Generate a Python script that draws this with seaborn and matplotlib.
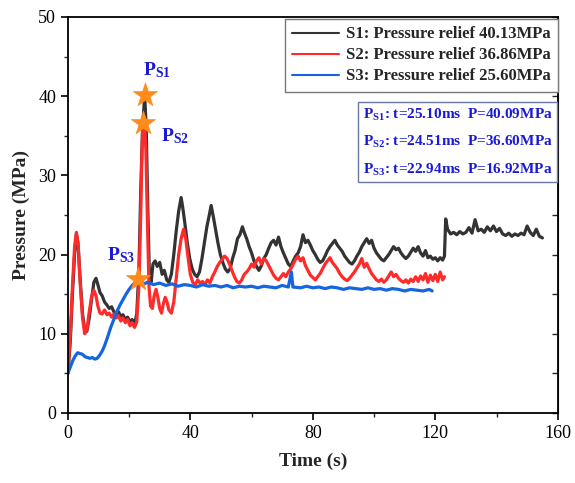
import numpy as np
import pandas as pd
import matplotlib
matplotlib.use("Agg")
import matplotlib.pyplot as plt
from matplotlib.ticker import MultipleLocator
import seaborn as sns

# ---------------- data ----------------
s1_t = [0, 0.8, 1.5, 2.2, 2.8, 3.3, 4, 4.8, 5.5, 6.2, 7, 7.8, 8.5, 9.2, 9.8, 10.5, 11.2, 12, 12.8, 13.5,
        14.3, 15, 15.8, 16.5, 17.3, 18, 18.8, 19.5, 20.3, 21, 21.8, 22.5, 23.2, 23.8, 24.4, 25.1, 25.6, 26.1,
        26.6, 27.2, 27.8, 28.5, 29.2, 30, 30.8, 31.5, 32.3, 33, 33.8, 34.6, 35.4, 36.2, 37, 37.5, 38.2, 39,
        39.8, 40.6, 41.4, 42.2, 43, 43.8, 44.6, 45.4, 46.2, 46.8, 47.5, 48.3, 49, 49.8, 50.6, 51.4, 52.2, 53,
        53.8, 54.6, 55.4, 56.2, 57, 57.6, 58.4, 59.2, 60, 60.8, 61.6, 62.4, 63.2, 64, 64.8, 65.6, 66.4, 67.2,
        68, 68.8, 69.6, 70.4, 71.2, 72, 72.8, 73.6, 74.4, 75.2, 76, 76.8, 77.6, 78.4, 79.2, 80, 80.8, 81.6,
        82.4, 83.2, 84, 84.8, 85.6, 86.4, 87.2, 88, 88.8, 89.6, 90.4, 91.2, 92, 92.8, 93.6, 94.4, 95.2, 96,
        96.8, 97.6, 98.4, 99.2, 100, 100.8, 101.6, 102.4, 103.2, 104, 104.8, 105.6, 106.4, 107.2, 108, 108.8,
        109.6, 110.4, 111.2, 112, 112.8, 113.6, 114.4, 115.2, 116, 116.8, 117.6, 118.4, 119.2, 120, 120.8,
        121.6, 122.4, 123, 123.4, 124, 125, 126, 127, 128, 129, 130, 131, 132, 133, 134, 135, 136, 137, 138,
        139, 140, 141, 142, 143, 144, 145, 146, 147, 148, 149, 150, 151, 152, 153, 154, 155]
s1_p = [5.0, 9, 15, 20, 22.6, 21.5, 17, 12.5, 10.5, 10.3, 12, 14.5, 16.5, 17.0, 16.2, 15.2, 14.8, 14.0, 13.6,
        13.2, 13.4, 12.8, 12.5, 12.8, 12.2, 12.4, 11.8, 12.1, 11.5, 11.8, 11.2, 12.5, 18, 28, 36, 40.09, 36,
        26, 18, 16.5, 18.8, 19.2, 18.5, 19.0, 17.5, 18.0, 16.8, 16.5, 17.5, 20, 23, 25.5, 27.2, 26, 24, 21.5,
        19.5, 18.2, 17.5, 17.2, 17.8, 19.5, 21.5, 23.5, 25, 26.2, 24.8, 23, 21.5, 20, 19, 18.2, 17.8, 18.2,
        19.5, 20.5, 22, 22.5, 23.5, 22.8, 22, 21, 20.2, 19.2, 18.5, 18, 18.6, 19.5, 20, 20.8, 21.5, 21.8,
        21.2, 22.2, 21, 20.2, 19.5, 18.8, 18.5, 19.2, 19.8, 20.2, 21, 22.5, 21.5, 21.8, 21.2, 20.5, 20, 19.4,
        19, 19.2, 19.8, 20.5, 21, 21.4, 21.8, 21.2, 20.8, 20.4, 19.8, 19.4, 19, 18.8, 19.2, 19.8, 20.3, 21,
        21.5, 22, 21.4, 21.8, 20.8, 20.2, 19.8, 19.4, 19.2, 19.6, 20, 20.5, 21, 20.6, 20.8, 20.2, 19.8, 19.5,
        19.8, 20.3, 20.8, 20.4, 21, 20.2, 19.8, 20.5, 19.6, 19.8, 19.4, 19.6, 19.2, 19.6, 19.3, 19.8, 24.5,
        23.2, 22.6, 22.8, 22.5, 22.9, 22.6, 22.8, 23.4, 22.7, 24.4, 23, 23.2, 22.8, 23.5, 23.0, 23.6, 22.9,
        23.3, 22.6, 22.4, 22.7, 22.3, 22.6, 22.4, 22.7, 22.5, 23.6, 22.8, 22.4, 23.2, 22.3, 22.1]

s2_t = [0, 0.8, 1.5, 2.2, 2.8, 3.4, 4, 4.8, 5.5, 6.2, 7, 7.8, 8.5, 9.2, 9.8, 10.5, 11.2, 12, 12.8, 13.5,
        14.3, 15, 15.8, 16.5, 17.3, 18, 18.8, 19.5, 20.3, 21, 21.8, 22.5, 23.2, 23.8, 24.2, 24.51, 25, 25.5,
        26, 26.5, 27, 27.6, 28.2, 28.8, 29.4, 30, 30.6, 31.2, 31.8, 32.4, 33, 33.8, 34.6, 35.4, 36.2, 37,
        37.8, 38.5, 39.3, 40, 40.8, 41.6, 42.4, 43.2, 44, 44.8, 45.6, 46.4, 47.2, 48, 48.8, 49.6, 50.4, 51.2,
        52, 52.8, 53.6, 54.4, 55.2, 56, 56.8, 57.6, 58.4, 59.2, 60, 60.8, 61.6, 62.4, 63.2, 64, 64.8, 65.6,
        66.4, 67.2, 68, 68.8, 69.6, 70.4, 71.2, 72, 72.8, 73.6, 74.4, 75.2, 76, 76.8, 77.6, 78.4, 79.2, 80,
        80.8, 81.6, 82.4, 83.2, 84, 84.8, 85.6, 86.4, 87.2, 88, 88.8, 89.6, 90.4, 91.2, 92, 92.8, 93.6, 94.4,
        95.2, 96, 96.8, 97.6, 98.4, 99.2, 100, 100.8, 101.6, 102.4, 103.2, 104, 104.8, 105.6, 106.4, 107.2,
        108, 108.8, 109.6, 110.4, 111.2, 112, 112.8, 113.6, 114.4, 115.2, 116, 116.8, 117.6, 118.4, 119.2,
        120, 120.8, 121.6, 122.4, 123]
s2_p = [5.0, 10, 16, 21, 22.8, 21, 16.5, 12, 10, 10.5, 12.8, 14.8, 15.5, 14.8, 13.5, 12.6, 12.5, 13.0, 12.4,
        12.6, 12.1, 12.5, 12.0, 12.3, 11.6, 12.0, 11.4, 11.8, 11.0, 11.4, 10.8, 11.5, 16, 25, 33, 36.6, 37.2,
        33, 24, 16, 13.5, 13.2, 14.8, 15.6, 14.6, 13.2, 12.6, 13.8, 14.6, 14.0, 13.0, 12.6, 14, 17, 20, 22,
        23.2, 22, 19.5, 17.5, 16.5, 16.2, 16.8, 16.4, 16.6, 16.2, 16.8, 16.4, 17.2, 17.8, 18.5, 19.0, 19.4,
        19.8, 19.5, 18.8, 18, 17.2, 16.6, 16.4, 16.8, 17.5, 17.8, 18.2, 18.8, 18.4, 19.2, 19.6, 18.8, 19.5,
        19.2, 18.6, 18.0, 17.4, 17, 16.8, 17.2, 17.6, 17.2, 17.8, 18.2, 18.8, 19.4, 19.8, 19.2, 19.6, 18.6,
        18, 17.4, 17.1, 16.8, 17.2, 17.6, 18.2, 18.8, 19.2, 19.6, 19.0, 18.6, 18.2, 17.6, 17.2, 16.9, 16.7,
        17, 17.4, 17.8, 18.3, 18.8, 19.5, 18.4, 18.9, 18.2, 17.6, 17.2, 16.8, 16.6, 16.9, 16.5, 16.8, 17.3,
        17.8, 17.2, 17.5, 17.0, 16.7, 16.5, 16.8, 16.4, 16.9, 16.6, 17.2, 16.6, 17.3, 16.8, 17.6, 16.5, 17.4,
        16.7, 17.5, 16.6, 17.8, 16.8, 17.2]

s3_t = [0, 0.8, 1.6, 2.4, 3.2, 4, 4.8, 5.6, 6.4, 7.2, 8, 8.8, 9.6, 10.4, 11.2, 12, 13, 14, 15, 16, 17, 18,
        19, 20, 21, 22, 22.94, 24, 25, 26, 28, 30, 32, 34, 36, 38, 40, 42, 44, 46, 48, 50, 52, 54, 56, 58,
        60, 62, 64, 66, 68, 70, 72, 73, 73.5, 76, 78, 80, 82, 84, 86, 88, 90, 92, 94, 96, 98, 100, 102, 104,
        106, 108, 110, 112, 114, 116, 118, 119]
s3_p = [5.0, 5.8, 6.6, 7.2, 7.6, 7.5, 7.4, 7.1, 7.0, 6.9, 7.0, 6.8, 6.9, 7.3, 7.8, 8.5, 9.6, 10.8, 11.8,
        12.8, 13.6, 14.3, 15.0, 15.6, 16.1, 16.5, 16.92, 16.6, 16.3, 16.5, 16.2, 16.4, 16.1, 16.3, 16.0,
        16.2, 16.1, 15.9, 16.2, 16.0, 16.1, 15.9, 16.1, 15.8, 16.0, 15.9, 16.0, 15.8, 16.0, 15.9, 15.8, 16.1,
        15.9, 17.8, 15.9, 15.8, 16.0, 15.8, 15.9, 15.7, 15.9, 15.8, 15.6, 15.8, 15.7, 15.6, 15.8, 15.6, 15.7,
        15.5, 15.7, 15.6, 15.4, 15.6, 15.5, 15.4, 15.6, 15.4]

series_labels = ["S1: Pressure relief 40.13MPa", "S2: Pressure relief 36.86MPa", "S3: Pressure relief 25.60MPa"]
series_colors = ["#333333", "#ff2a2a", "#1565e0"]

peak_names = [r"$\mathbf{P_{S1}}$", r"$\mathbf{P_{S2}}$", r"$\mathbf{P_{S3}}$"]
peak_t = [25.10, 24.51, 22.94]
peak_p = [40.09, 36.60, 16.92]
peak_text_lines = [r"$\mathbf{P_{S1}}$: t=25.10ms  P=40.09MPa",
                   r"$\mathbf{P_{S2}}$: t=24.51ms  P=36.60MPa",
                   r"$\mathbf{P_{S3}}$: t=22.94ms  P=16.92MPa"]

# ---------------- style ----------------
sns.set_style("ticks")
plt.rcParams["font.family"] = ["Liberation Serif", "DejaVu Serif"]
plt.rcParams["mathtext.fontset"] = "custom"
plt.rcParams["mathtext.rm"] = "Liberation Serif"
plt.rcParams["mathtext.bf"] = "Liberation Serif:bold"
plt.rcParams["mathtext.it"] = "Liberation Serif:italic"

fig, ax = plt.subplots(figsize=(5.75, 4.83), dpi=100)
fig.subplots_adjust(left=0.118, right=0.97, bottom=0.145, top=0.965)

frames = []
for name, t, p in zip(series_labels, [s1_t, s2_t, s3_t], [s1_p, s2_p, s3_p]):
    frames.append(pd.DataFrame({"Time": t, "Pressure": p, "Series": name}))
df = pd.concat(frames, ignore_index=True)

sns.lineplot(data=df, x="Time", y="Pressure", hue="Series", hue_order=series_labels,
             palette=series_colors, estimator=None, sort=False, linewidth=2.3, ax=ax)

# peak stars
sns.scatterplot(x=peak_t, y=peak_p, marker="*", s=330, color="#ff8c1a", edgecolor="#ff8c1a",
                linewidth=0.5, zorder=5, ax=ax, legend=False)

lab_col = "#1a1ad6"
ax.text(29.0, peak_p[0] + 2.0, peak_names[0], color=lab_col, fontsize=14, ha="center", va="bottom")
ax.text(30.5, 35.0, peak_names[1], color=lab_col, fontsize=14, ha="left", va="center")
ax.text(21.9, 19.9, peak_names[2], color=lab_col, fontsize=14, ha="right", va="center")

ax.set_xlim(0, 160)
ax.set_ylim(0, 50)
ax.xaxis.set_major_locator(MultipleLocator(40))
ax.xaxis.set_minor_locator(MultipleLocator(20))
ax.yaxis.set_major_locator(MultipleLocator(10))
ax.yaxis.set_minor_locator(MultipleLocator(5))
ax.tick_params(axis="both", which="major", direction="out", length=5, width=1.2, labelsize=13,
               colors="black")
ax.tick_params(axis="both", which="minor", direction="out", length=3, width=1.0)
for sp in ax.spines.values():
    sp.set_visible(True)
    sp.set_linewidth(1.3)
    sp.set_color("black")

sec = ax.secondary_yaxis("right")
sec.yaxis.set_major_locator(MultipleLocator(5))
sec.tick_params(direction="in", length=4, width=1.0, labelright=False)

ax.set_xlabel("Time (s)", fontsize=14, fontweight="bold", labelpad=8)
ax.set_ylabel("Pressure (MPa)", fontsize=14, fontweight="bold", labelpad=6)

leg = ax.legend(loc="upper right", bbox_to_anchor=(1.0, 0.995), frameon=True, fancybox=False,
                framealpha=1, edgecolor="#777777", handlelength=2.8, handletextpad=0.4,
                borderaxespad=0.0, labelspacing=0.3, borderpad=0.45,
                prop={"weight": "bold", "size": 12})
for line in leg.get_lines():
    line.set_linewidth(1.5)
leg.get_frame().set_linewidth(1.0)

ax.text(0.99, 0.773, "\n".join(peak_text_lines), transform=ax.transAxes, ha="right", va="top",
        color=lab_col, fontsize=11, fontweight="bold", linespacing=1.95,
        bbox=dict(boxstyle="square,pad=0.3", facecolor="white", edgecolor="#6a7aa8", linewidth=1.0))

fig.savefig("out.png", dpi=100)
